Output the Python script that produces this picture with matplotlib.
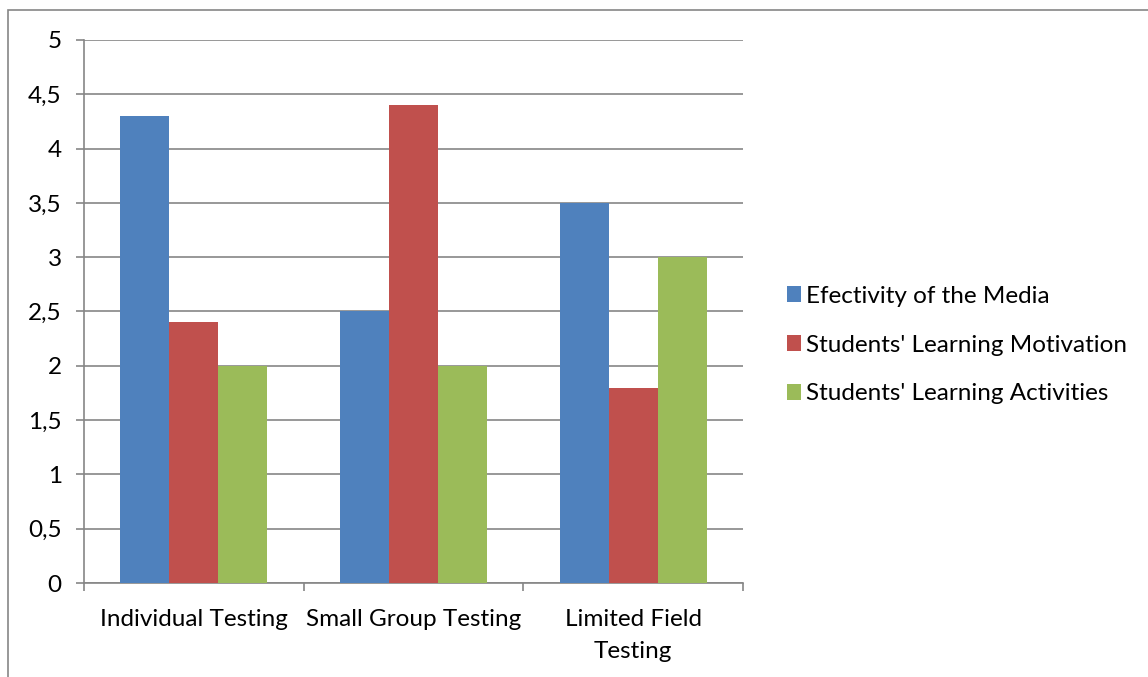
import matplotlib.pyplot as plt
import numpy as np
from matplotlib.ticker import FuncFormatter, FixedLocator
from matplotlib.patches import Rectangle

categories = ["Individual Testing", "Small Group Testing", "Limited Field\nTesting"]
series_names = ["Efectivity of the Media", "Students' Learning Motivation", "Students' Learning Activities"]
efectivity = [4.3, 2.5, 3.5]
motivation = [2.4, 4.4, 1.8]
activities = [2.0, 2.0, 3.0]
colors = ["#4f81bd", "#c0504d", "#9bbb59"]

plt.rcParams['font.family'] = ['Lato', 'DejaVu Sans']
grid_c = "#868686"
fs = 17.5

fig = plt.figure(figsize=(11.48, 6.77), dpi=100)
ax = fig.add_axes([84 / 1148, 1 - 583 / 677, (743 - 84) / 1148, (583 - 40) / 677])

# chart area border (left and top visible)
fig.patches.append(Rectangle((8 / 1148, -0.1), 1.2, 1 - 10 / 677 + 0.1, transform=fig.transFigure,
                             fill=False, edgecolor=grid_c, linewidth=1.2))

x = np.arange(len(categories))
w = 0.223
for i, (vals, name) in enumerate(zip([efectivity, motivation, activities], series_names)):
    ax.bar(x + (i - 1) * w, vals, width=w, color=colors[i], label=name, zorder=3)

ax.set_xlim(-0.5, 2.5)
ax.set_ylim(0, 5)
ax.set_yticks(np.arange(0, 5.01, 0.5))
ax.yaxis.set_major_formatter(FuncFormatter(lambda v, p: ("%g" % v).replace(".", ",")))
ax.grid(axis='y', color=grid_c, linewidth=1.2, zorder=0)

ax.set_xticks(x)
ax.set_xticklabels(categories, fontsize=fs, linespacing=1.65)
ax.tick_params(axis='x', which='major', length=0, pad=19)
ax.xaxis.set_minor_locator(FixedLocator([-0.5, 0.5, 1.5, 2.5]))
ax.tick_params(axis='x', which='minor', length=6, color=grid_c, width=1.2)
ax.tick_params(axis='y', length=6, color=grid_c, width=1.2, labelsize=fs, pad=10)

for s in ['top', 'right']:
    ax.spines[s].set_visible(False)
for s in ['left', 'bottom']:
    ax.spines[s].set_color(grid_c)
    ax.spines[s].set_linewidth(1.2)

fig.legend(loc='center left', bbox_to_anchor=(765 / 1148, 1 - 345 / 677), frameon=False,
           fontsize=fs, handlelength=0.6, handleheight=0.6, handletextpad=0.2, labelspacing=1.15)

fig.savefig("out.png", dpi=100)
